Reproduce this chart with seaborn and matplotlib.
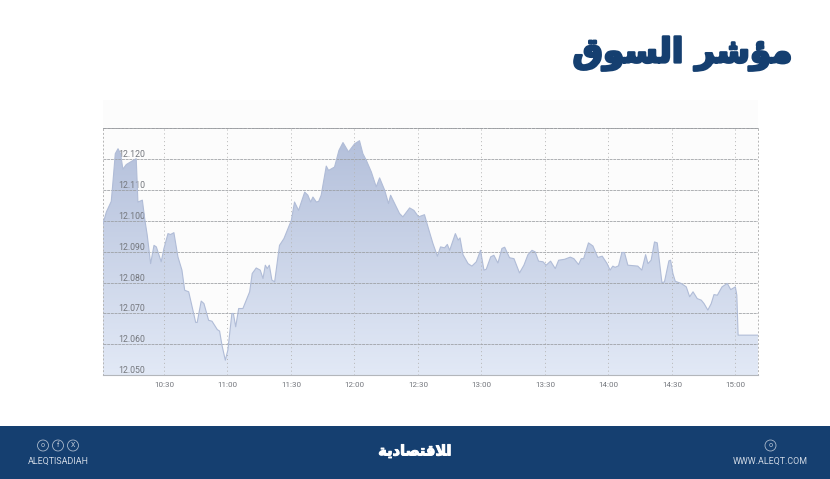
import numpy as np
import pandas as pd
import matplotlib
matplotlib.use('Agg')
import matplotlib.pyplot as plt
import matplotlib.patheffects as pe
import seaborn as sns
from matplotlib.colors import LinearSegmentedColormap
from matplotlib.patches import Rectangle, Circle

# minutes after 10:00
minutes = [1.2, 2.8, 5.1, 5.9, 7.0, 8.3, 9.5, 10.6, 12.2, 14.6, 16.9, 17.7, 19.8, 20.9, 22.1, 23.7,
           25.3, 26.4, 28.7, 30, 31.9, 33.1, 34.7, 36.6, 38.5, 39.8, 41.7, 45, 45.7, 47.6, 48.9, 51.1,
           52.7, 55.2, 56.3, 57.4, 59, 60.2, 62.1, 62.8, 63.9, 65.3, 67.3, 70.5, 71.7, 73.6, 75.5, 76.8,
           77.9, 78.8, 79.8, 81, 82.3, 84.6, 86.7, 90.2, 91.7, 93.6, 96.5, 98, 99.3, 100.4, 102, 103.1,
           104.3, 106.7, 107.8, 110.6, 112.7, 114.6, 117.2, 120.1, 122.4, 124, 125.6, 128, 130.3, 131.9,
           134.3, 136.1, 137.1, 139, 141.3, 142.9, 146.1, 148.1, 150.3, 153.1, 155, 157.1, 159.2, 160.7,
           162.6, 163.9, 165, 167.7, 169, 169.9, 171.3, 173.7, 175.5, 177.6, 179.6, 181.2, 182.3, 184.4,
           185.9, 187.8, 189.7, 191, 193.3, 195.4, 198, 200.1, 202, 203.9, 205.4, 207, 209.1, 210.6,
           212.7, 214.9, 216.5, 219.3, 222, 223.7, 225.9, 227.2, 228.3, 230.6, 232.7, 235, 237.1, 239.4,
           240.8, 242.1, 243.2, 244.8, 246.4, 247.6, 249.2, 253.9, 255.8, 257.6, 258.7, 260.2, 261.8,
           263.1, 265.3, 266.5, 268.6, 269.4, 270.5, 271.6, 274.4, 276.8, 278.4, 280, 282, 283.9, 285.2,
           287, 288.6, 289.9, 291.5, 293.7, 296.2, 297.8, 300, 300.7, 301.3, 310.7]
index_values = [12099.0, 12102.8, 12106.2, 12112.5, 12121.6, 12123.2, 12121.6, 12116.6, 12118.1, 12119.1,
                12120.0, 12106.0, 12106.6, 12100.6, 12095.3, 12086.1, 12092.0, 12091.5, 12086.7, 12091.0,
                12095.8, 12095.5, 12096.1, 12088.3, 12084.0, 12077.5, 12077.0, 12067.1, 12067.1, 12074.0,
                12073.2, 12067.8, 12067.5, 12064.8, 12064.3, 12059.8, 12054.9, 12058.2, 12070.0, 12070.0,
                12065.7, 12071.6, 12071.6, 12077.0, 12082.9, 12084.7, 12084.0, 12081.3, 12085.6, 12084.5,
                12085.6, 12080.8, 12080.2, 12092.0, 12094.2, 12100.1, 12106.0, 12103.3, 12109.2, 12108.2,
                12106.0, 12107.6, 12106.0, 12106.2, 12108.2, 12117.6, 12116.2, 12117.3, 12122.7, 12125.2,
                12122.2, 12124.8, 12125.8, 12121.6, 12119.5, 12115.7, 12110.9, 12113.8, 12109.8, 12105.5,
                12108.2, 12105.5, 12102.3, 12101.2, 12104.1, 12103.3, 12101.2, 12101.9, 12097.4, 12092.6,
                12088.5, 12091.5, 12091.2, 12092.3, 12090.4, 12095.8, 12093.7, 12094.4, 12089.0, 12086.1,
                12085.3, 12086.7, 12090.4, 12084.0, 12084.3, 12088.3, 12088.8, 12086.3, 12091.0, 12091.4,
                12088.0, 12087.7, 12083.1, 12085.6, 12089.0, 12090.4, 12089.9, 12086.9, 12086.7, 12085.6,
                12086.9, 12084.5, 12087.2, 12087.5, 12088.2, 12087.7, 12085.8, 12087.7, 12087.7, 12092.8,
                12091.8, 12088.1, 12088.5, 12086.1, 12084.0, 12085.3, 12084.9, 12085.4, 12089.7, 12089.7,
                12085.6, 12085.3, 12084.0, 12089.0, 12086.1, 12087.2, 12093.1, 12092.8, 12080.0, 12080.2,
                12087.0, 12087.2, 12082.9, 12080.4, 12079.7, 12078.6, 12075.4, 12077.0, 12074.8, 12074.3,
                12073.2, 12071.1, 12073.2, 12076.1, 12075.9, 12078.6, 12079.7, 12077.7, 12078.6, 12075.9,
                12063.0, 12063.0]
x_ticks = [30, 60, 90, 120, 150, 180, 210, 240, 270, 300]
x_labels = ['10:30', '11:00', '11:30', '12:00', '12:30', '13:00', '13:30', '14:00', '14:30', '15:00']
y_ticks = [12050, 12060, 12070, 12080, 12090, 12100, 12110, 12120]
y_labels = ['12.050', '12.060', '12.070', '12.080', '12.090', '12.100', '12.110', '12.120']

# matplotlib does no arabic shaping, so these are joined forms in visual order
title_text = '\uFED5\uFEEE\uFEB4\uFEDF\uFE8D \uFEAE\uFEB7\uFE86\uFEE3'
logo_text = '\uFE94\uFEF3\uFEA9\uFE8E\uFEBC\uFE98\uFED7\uFEFC\uFE8D'

NAVY = '#153f70'
W, H = 830, 479

df = pd.DataFrame({'minute': minutes, 'value': index_values})

sns.set_style('white')
plt.rcParams['font.family'] = ['Roboto', 'DejaVu Sans']

fig = plt.figure(figsize=(8.3, 4.79), dpi=100)
fig.patches.append(Rectangle((103 / W, 1 - 376 / H), 655 / W, 276 / H, transform=fig.transFigure,
                             fc='#fcfcfc', ec='none', figure=fig, zorder=-1))
fig.patches.append(Rectangle((0, 0), 1, 53 / H, transform=fig.transFigure, fc=NAVY, ec='none', figure=fig))

ax = fig.add_axes([103 / W, 1 - 375.4 / H, 655 / W, 247.7 / H])
ax.patch.set_alpha(0)

sns.lineplot(data=df, x='minute', y='value', ax=ax, color='#b0bcd7', lw=0.8, estimator=None, sort=False, zorder=3)

# gradient under the line
cmap = LinearSegmentedColormap.from_list('area', ['#b4c0db', '#e2e9f6'])
grad = ax.imshow(np.linspace(0, 1, 256).reshape(-1, 1), cmap=cmap, aspect='auto',
                 extent=[df.minute.min(), df.minute.max(), 12050, df.value.max()], origin='upper', zorder=1)
area = ax.fill_between(df.minute, df.value, 12050, color='none')
grad.set_clip_path(area.get_paths()[0], transform=ax.transData)

ax.set_xlim(1.2, 310.7)
ax.set_ylim(12050, 12130)
ax.set_xlabel('')
ax.set_ylabel('')
ax.set_xticks(x_ticks)
ax.set_xticklabels(x_labels)
ax.set_yticks(y_ticks + [12130])
ax.set_yticklabels(y_labels + [''])
ax.set_axisbelow(False)
ax.grid(axis='y', color='#9a9da1', lw=0.7, ls=(0, (3, 0.8)), alpha=0.8)
ax.grid(axis='x', color='#b5b5b5', lw=0.7, ls=(0, (1, 3)))
ax.tick_params(axis='x', length=0, pad=4.5, labelsize=5.8, labelcolor='#74777d')
ax.tick_params(axis='y', length=0, pad=-11, labelsize=6.3, labelcolor='#74777d')
for t in ax.get_yticklabels():
    t.set_ha('left')
    t.set_va('bottom')
for s in ['left', 'right']:
    ax.spines[s].set_linestyle((0, (1, 3)))
    ax.spines[s].set_color('#b5b5b5')
    ax.spines[s].set_linewidth(0.7)
ax.spines['top'].set_linestyle((0, (3, 1.5)))
ax.spines['top'].set_color('#a6a8ab')
ax.spines['top'].set_linewidth(0.7)
ax.spines['bottom'].set_color('#b3b6bb')
ax.spines['bottom'].set_linewidth(0.8)

fig.text(792 / W, 1 - 53.5 / H, title_text, ha='right', va='center', fontsize=24.5, fontweight='bold',
         color=NAVY, family='DejaVu Sans',
         path_effects=[pe.withStroke(linewidth=1.8, foreground=NAVY)])
fig.text(415 / W, 1 - 451 / H, logo_text, ha='center', va='center', fontsize=10.5, fontweight='bold',
         color='white', family='DejaVu Sans',
         path_effects=[pe.withStroke(linewidth=0.7, foreground='white')])
fig.text(58 / W, 1 - 461.5 / H, 'ALEQTISADIAH', ha='center', va='center', fontsize=6.4, color='#cfd8e4')
fig.text(770 / W, 1 - 461.5 / H, 'WWW.ALEQT.COM', ha='center', va='center', fontsize=6.4, color='#cfd8e4')

# social icons in the footer
for cx, glyph in [(43, 'o'), (58, 'f'), (73, 'X'), (770.5, 'o')]:
    fig.patches.append(Circle((cx / W * 8.3, (H - 445.5) / H * 4.79), 0.055, transform=fig.dpi_scale_trans,
                              fc='none', ec='#a9b8cb', lw=0.6, figure=fig))
    fig.text(cx / W, 1 - 445.5 / H, glyph, ha='center', va='center', fontsize=5, color='#c3cedc')

fig.savefig('out.png', dpi=100)
